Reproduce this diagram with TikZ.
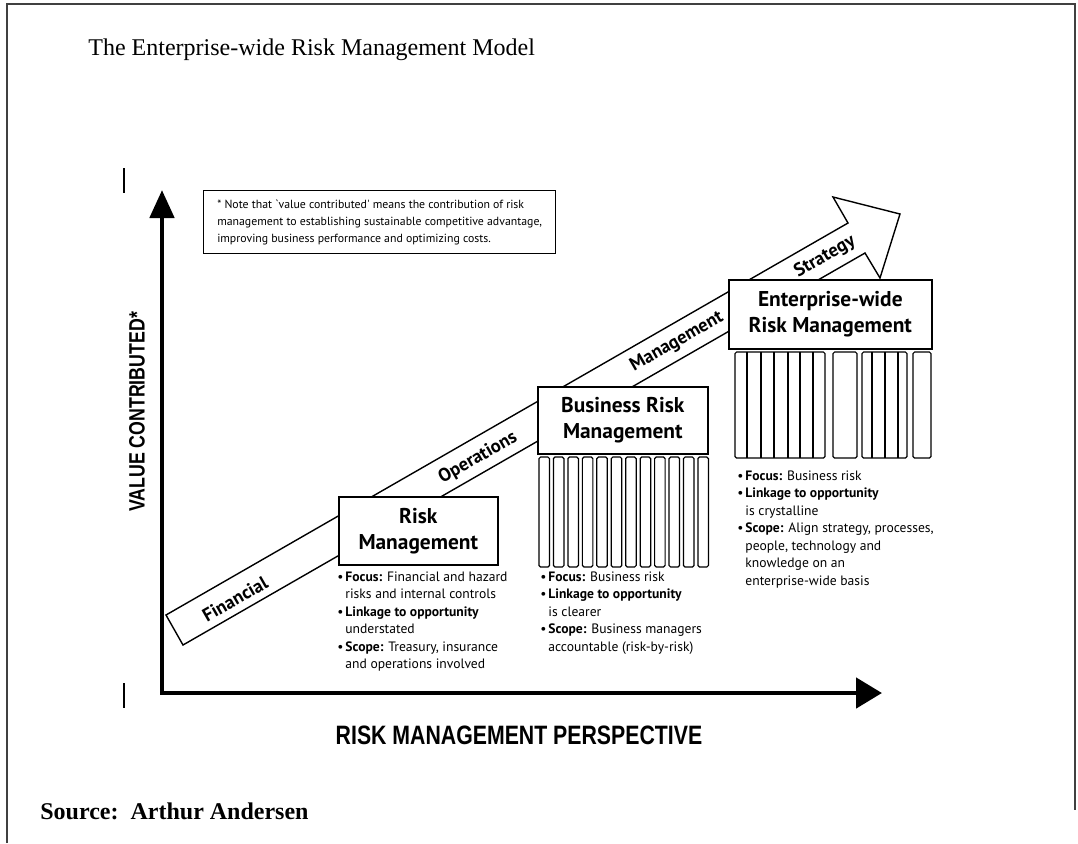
\documentclass[tikz,border=0pt]{standalone}
\usepackage{fontspec}
\setmainfont{Liberation Serif}
\newfontfamily\figsans{PT Sans}
\newfontfamily\axisfont[FakeStretch=0.8]{Liberation Sans}
\usetikzlibrary{arrows.meta}
% bullet with hanging indent for the description lists
\newcommand\bitem{\makebox[4pt][l]{\textbullet}}
\newcommand\bcont{\hspace*{4pt}}
\begin{document}
\begin{tikzpicture}[x=0.5pt,y=-0.5pt,
  frameline/.style={line width=1.2pt,draw=black!75},
  axisline/.style={line width=2.4pt,line join=miter},
  tickmark/.style={line width=0.7pt},
  band/.style={draw,fill=white,line width=0.7pt,line join=miter},
  bandtext/.style={font=\figsans\bfseries\fontsize{9.3}{10}\selectfont,rotate=29.9,inner sep=0pt},
  stage/.style={draw,fill=white,line width=0.8pt,align=center,inner sep=0pt,anchor=north west,
    font=\figsans\bfseries\fontsize{10.7}{13}\selectfont},
  column/.style={draw,line width=0.6pt,rounded corners=0.8pt},
  divider/.style={draw,line width=0.6pt},
  bullets/.style={align=left,inner sep=0pt,anchor=north west,
    font=\figsans\fontsize{6.8}{8.75}\selectfont},
  notebox/.style={draw,line width=0.7pt,align=left,anchor=north west,inner xsep=4.5pt,
    minimum width=176pt,minimum height=31.5pt,font=\figsans\fontsize{5.9}{8.5}\selectfont},
  axislabel/.style={font=\axisfont\bfseries,inner sep=0pt}]
\useasboundingbox (0,0) rectangle (1078,843);

% page frame
\draw[frameline] (7,843) -- (7,4) -- (1075,4) -- (1075,810);

% heading and source line
\node[anchor=base west,font=\fontsize{12}{14}\selectfont,inner sep=0pt] (title) at (88,55)
  {The Enterprise-wide Risk Management Model};
\node[anchor=base west,font=\bfseries\fontsize{12}{14}\selectfont,inner sep=0pt] (source) at (40,819)
  {Source:\ \ Arthur Andersen};

% small marks left of the value axis
\draw[tickmark] (124,168) -- (124,193);
\draw[tickmark] (124,683) -- (124,708);

% axes
\coordinate (origin) at (162,693);
\coordinate (ytip) at (162,190);
\coordinate (xtip) at (882,693);
\draw[axisline,{Triangle[length=14pt,width=12pt]}-{Triangle[length=13pt,width=15pt]}]
  (ytip) -- (origin) -- (xtip);
\node[axislabel,font=\axisfont\bfseries\fontsize{13.3}{15}\selectfont] (xlabel) at (519,735)
  {RISK MANAGEMENT PERSPECTIVE};
\node[axislabel,rotate=90,font=\axisfont\bfseries\fontsize{11.1}{13}\selectfont] (ylabel) at (137,412)
  {VALUE CONTRIBUTED*};

% rising band arrow
\draw[band] (166,615) -- (848,223) -- (833,197) -- (900,214) -- (880,278)
  -- (865,253) -- (183,645) -- cycle;
\node[bandtext] (financial) at (235,599) {Financial};
\node[bandtext] (operations) at (478,458) {Operations};
\node[bandtext] (management) at (677,342) {Management};
\node[bandtext] (strategy) at (825,257) {Strategy};

% explanatory note
\node[notebox] (note) at (203,190)
  {* Note that `value contributed' means the contribution of risk\\
   management to establishing sustainable competitive advantage,\\
   improving business performance and optimizing costs.};

% stage 1
\node[stage,minimum width=79.5pt,minimum height=34pt] (rm) at (338,496) {Risk\\Management};
\node[bullets] (rmtext) at (337,571)
  {\bitem\textbf{Focus:} Financial and hazard\\
   \bcont risks and internal controls\\
   \bitem\textbf{Linkage to opportunity}\\
   \bcont understated\\
   \bitem\textbf{Scope:} Treasury, insurance\\
   \bcont and operations involved};

% stage 2
\node[stage,minimum width=85pt,minimum height=33.5pt] (brm) at (537,386) {Business Risk\\Management};
\foreach \i in {0,...,11}
  \draw[column] ({539+\i*14.45},457) rectangle ({549.5+\i*14.45},567);
\node[bullets] (brmtext) at (540,571)
  {\bitem\textbf{Focus:} Business risk\\
   \bitem\textbf{Linkage to opportunity}\\
   \bcont is clearer\\
   \bitem\textbf{Scope:} Business managers\\
   \bcont accountable (risk-by-risk)};

% stage 3
\node[stage,minimum width=101.5pt,minimum height=34.5pt] (erm) at (728,279)
  {Enterprise-wide\\Risk Management};
\draw[column] (735,352) rectangle (825,458);
\foreach \x in {747,761,774,788,800,813}
  \draw[divider] (\x,352) -- (\x,458);
\draw[column] (833,352) rectangle (857,458);
\draw[column] (862,352) rectangle (907,458);
\foreach \x in {872,885,898}
  \draw[divider] (\x,352) -- (\x,458);
\draw[column] (913,352) rectangle (931,458);
\node[bullets] (ermtext) at (737,470)
  {\bitem\textbf{Focus:} Business risk\\
   \bitem\textbf{Linkage to opportunity}\\
   \bcont is crystalline\\
   \bitem\textbf{Scope:} Align strategy, processes,\\
   \bcont people, technology and\\
   \bcont knowledge on an\\
   \bcont enterprise-wide basis};
\end{tikzpicture}
\end{document}
